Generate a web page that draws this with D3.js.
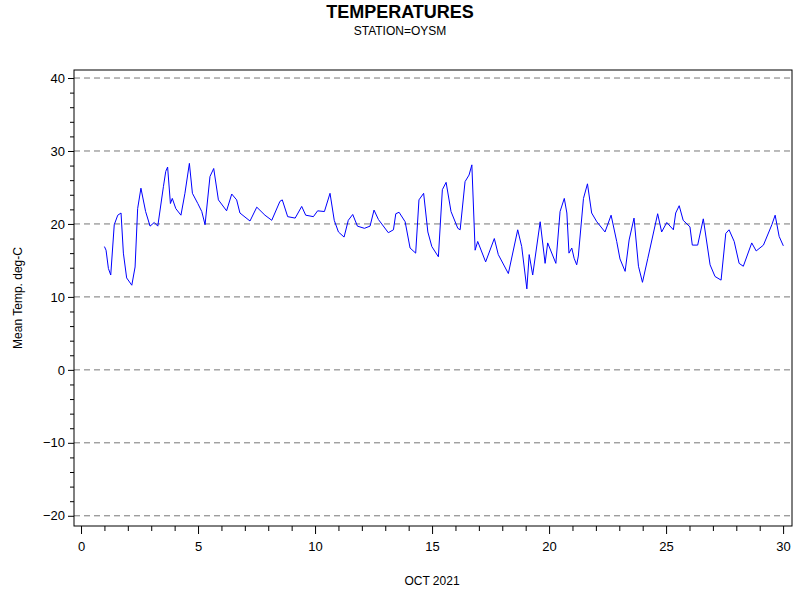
<!DOCTYPE html>
<html><head><meta charset="utf-8">
<script src="https://cdn.jsdelivr.net/npm/d3@7"></script>
<style>body{margin:0;background:#fff}text{font-family:Arial,"Liberation Sans",sans-serif}</style>
</head><body><svg id="c" width="800" height="600"></svg>
<script>
const days = [1.0,1.07,1.17,1.27,1.42,1.57,1.71,1.81,1.95,2.17,2.31,2.42,2.56,2.76,2.95,3.13,3.28,3.52,3.62,3.7,3.82,3.9,4.05,4.27,4.44,4.63,4.76,4.99,5.16,5.3,5.51,5.67,5.87,6.22,6.44,6.65,6.79,7.22,7.51,7.86,8.15,8.5,8.6,8.83,9.15,9.43,9.6,9.93,10.11,10.4,10.64,10.82,11.0,11.24,11.42,11.61,11.81,12.11,12.35,12.52,12.71,13.13,13.35,13.45,13.59,13.85,14.06,14.3,14.44,14.64,14.82,14.99,15.27,15.44,15.6,15.81,16.1,16.2,16.41,16.58,16.7,16.84,16.95,17.29,17.66,17.83,18.26,18.66,18.83,19.05,19.15,19.3,19.62,19.83,19.94,20.29,20.47,20.65,20.76,20.85,20.97,21.07,21.18,21.25,21.47,21.64,21.82,22.04,22.39,22.65,22.89,23.03,23.25,23.42,23.63,23.82,23.99,24.22,24.64,24.81,25.03,25.31,25.41,25.56,25.73,26.02,26.12,26.35,26.59,26.88,27.09,27.35,27.55,27.69,27.91,28.12,28.3,28.66,28.85,29.16,29.52,29.66,29.83,30.01];
const temps = [16.9,16.4,13.9,13.0,19.9,21.2,21.5,16.0,12.6,11.6,14.1,22.1,24.9,21.7,19.7,20.2,19.7,25.1,27.2,27.8,22.8,23.5,22.1,21.2,24.2,28.3,24.2,22.8,21.7,19.9,26.5,27.6,23.3,21.8,24.1,23.3,21.5,20.4,22.3,21.2,20.5,23.1,23.3,21.0,20.8,22.4,21.2,21.0,21.8,21.7,24.2,20.5,18.9,18.2,20.5,21.3,19.7,19.4,19.7,21.9,20.6,18.8,19.2,21.4,21.6,20.3,16.7,16.0,23.3,24.2,18.9,16.9,15.5,24.7,25.7,21.7,19.4,19.2,25.8,26.7,28.1,16.4,17.6,14.8,18.0,15.8,13.2,19.2,16.9,11.1,15.8,13.0,20.3,14.6,17.4,14.6,21.7,23.5,21.5,16.0,16.7,15.3,14.4,15.6,23.5,25.5,21.5,20.3,18.9,21.2,17.6,15.2,13.5,17.8,20.8,14.2,12.0,15.3,21.4,18.9,20.2,19.2,21.5,22.5,20.5,19.6,17.1,17.1,20.7,14.4,12.8,12.3,18.7,19.2,17.6,14.6,14.2,17.4,16.3,17.1,19.9,21.2,18.3,17.0];
const xTicks = [0,5,10,15,20,25,30];
const yTicks = [-20,-10,0,10,20,30,40];

const svg = d3.select("#c");
const L=74,R=792,T=70,B=526;
const x = d3.scaleLinear().domain([-0.3,30.38]).range([L,R]);
const y = d3.scaleLinear().domain([-21.4,41.1]).range([B,T]);

svg.append("g").selectAll("line").data(yTicks).join("line")
  .attr("x1",L).attr("x2",R).attr("y1",d=>y(d)).attr("y2",d=>y(d))
  .attr("stroke","#777").attr("stroke-dasharray","6,4");

svg.append("rect").attr("x",L).attr("y",T).attr("width",R-L).attr("height",B-T)
  .attr("fill","none").attr("stroke","#000");

const line = d3.line().x((d,i)=>x(days[i])).y(d=>y(d));
svg.append("path").datum(temps).attr("d",line).attr("fill","none").attr("stroke","#0000ff").attr("stroke-width",1);

const ya = svg.append("g").attr("transform",`translate(${L},0)`)
  .call(d3.axisLeft(y).tickValues(yTicks).tickSize(6).tickPadding(3).tickFormat(d3.format("d")));
ya.select(".domain").remove();
ya.selectAll("text").attr("font-size",13).attr("font-family","Arial,'Liberation Sans',sans-serif");
svg.append("g").attr("transform",`translate(${L},0)`)
  .call(d3.axisLeft(y).tickValues(d3.range(-20,41,2).filter(v=>v%10)).tickSize(4).tickFormat(""))
  .select(".domain").remove();

const xa = svg.append("g").attr("transform",`translate(0,${B})`)
  .call(d3.axisBottom(x).tickValues(xTicks).tickSize(8).tickPadding(8).tickFormat(d3.format("d")));
xa.select(".domain").remove();
xa.selectAll("text").attr("font-size",13).attr("font-family","Arial,'Liberation Sans',sans-serif");
svg.append("g").attr("transform",`translate(0,${B})`)
  .call(d3.axisBottom(x).tickValues(d3.range(0,30.1,1).filter(v=>v%5)).tickSize(5).tickFormat(""))
  .select(".domain").remove();

svg.append("text").attr("x",400).attr("y",18).attr("text-anchor","middle")
  .attr("font-size",18).attr("font-weight","bold").text("TEMPERATURES");
svg.append("text").attr("x",400).attr("y",35).attr("text-anchor","middle")
  .attr("font-size",12).text("STATION=OYSM");
svg.append("text").attr("x",432).attr("y",585).attr("text-anchor","middle")
  .attr("font-size",12).text("OCT 2021");
svg.append("text").attr("transform","translate(22,298) rotate(-90)").attr("text-anchor","middle")
  .attr("font-size",12).text("Mean Temp. deg-C");
</script></body></html>
